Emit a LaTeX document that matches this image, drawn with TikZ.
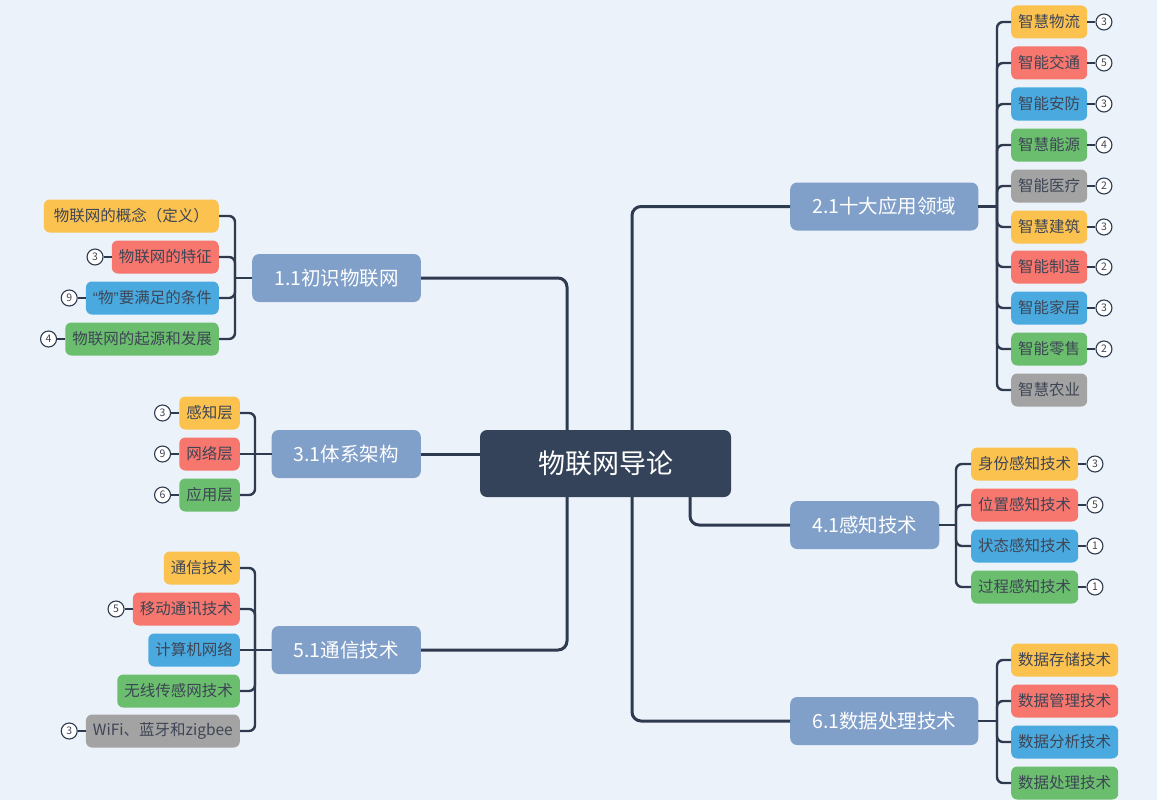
\documentclass[tikz,border=0pt]{standalone}
\usepackage{fontspec}
\setmainfont{Noto Sans CJK SC}
\newfontfamily\quotefont{Liberation Sans}
\usetikzlibrary{positioning}
\definecolor{bgc}{HTML}{ECF2FA}
\definecolor{rootc}{HTML}{344359}
\definecolor{mainc}{HTML}{809FC9}
\definecolor{yelc}{HTML}{FBC24F}
\definecolor{redc}{HTML}{F7766E}
\definecolor{bluc}{HTML}{4AAADF}
\definecolor{grnc}{HTML}{6ABE6E}
\definecolor{gryc}{HTML}{A3A3A3}
\definecolor{linec}{HTML}{2E3A4E}
\definecolor{txtc}{HTML}{3E4555}
\tikzset{
  rootbox/.style={fill=rootc, text=white, rounded corners=7pt, minimum width=251pt, minimum height=67pt, font=\fontsize{27}{30}\selectfont},
  mainbox/.style={fill=mainc, text=white, rounded corners=7pt, minimum height=48pt, inner xsep=22pt, font=\fontsize{19.5}{22}\selectfont},
  leaf/.style={fill=#1, text=txtc, rounded corners=6pt, minimum height=33pt, inner xsep=7pt, font=\fontsize{15.5}{18}\selectfont},
  badge/.style={circle, draw=linec, fill=white, line width=1.1pt, inner sep=0pt, minimum size=16pt, text=txtc, font=\fontsize{10.5}{12}\selectfont},
  link/.style={draw=linec, line width=3pt, rounded corners=9pt},
  twig/.style={draw=linec, line width=2.4pt, rounded corners=6pt},
  stub/.style={draw=linec, line width=1.8pt},
}
\begin{document}
\begin{tikzpicture}[x=1pt,y=-1pt]
\fill[bgc] (0,0) rectangle (1157,800);
\useasboundingbox (0,0) rectangle (1157,800);
            % Root and topics
\node[rootbox] (root) at (605.5,463.5) {物联网导论};
\node[mainbox,anchor=east] (p11) at (421,278) {1.1初识物联网};
\node[mainbox,anchor=east] (p31) at (421,454) {3.1体系架构};
\node[mainbox,anchor=east] (p51) at (421,650) {5.1通信技术};
\node[mainbox,anchor=west] (p21) at (790,206.5) {2.1十大应用领域};
\node[mainbox,anchor=west] (p41) at (790,525) {4.1感知技术};
\node[mainbox,anchor=west] (p61) at (790,721) {6.1数据处理技术};
%Topic 1.1
\node[leaf=yelc,anchor=east,inner xsep=10pt] (c11a) at (219,216) {物联网的概念（定义）};
\node[leaf=redc,anchor=east] (c11b) at (219,257) {物联网的特征};
\node[leaf=bluc,anchor=east] (c11c) at (219,298) {{\quotefont “}物{\quotefont ”}要满足的条件};
\node[leaf=grnc,anchor=east] (c11d) at (219,339) {物联网的起源和发展};
\node[badge,left=8pt of c11b] (b11b) {3};
\node[badge,left=8pt of c11c] (b11c) {9};
\node[badge,left=8pt of c11d] (b11d) {4};
%Topic 3.1
\node[leaf=yelc,anchor=east] (c31a) at (240,413) {感知层};
\node[leaf=redc,anchor=east] (c31b) at (240,454) {网络层};
\node[leaf=grnc,anchor=east] (c31c) at (240,495) {应用层};
\node[badge,left=8pt of c31a] (b31a) {3};
\node[badge,left=8pt of c31b] (b31b) {9};
\node[badge,left=8pt of c31c] (b31c) {6};
%Topic 5.1
\node[leaf=yelc,anchor=east] (c51a) at (240,568) {通信技术};
\node[leaf=redc,anchor=east] (c51b) at (240,609) {移动通讯技术};
\node[leaf=bluc,anchor=east] (c51c) at (240,650) {计算机网络};
\node[leaf=grnc,anchor=east] (c51d) at (240,691) {无线传感网技术};
\node[leaf=gryc,anchor=east] (c51e) at (240,731) {WiFi、蓝牙和zigbee};
\node[badge,left=8pt of c51b] (b51b) {5};
\node[badge,left=8pt of c51e] (b51e) {3};
%Topic 2.1
\node[leaf=yelc,anchor=west] (c21a) at (1011,22) {智慧物流};
\node[leaf=redc,anchor=west] (c21b) at (1011,63) {智能交通};
\node[leaf=bluc,anchor=west] (c21c) at (1011,104) {智能安防};
\node[leaf=grnc,anchor=west] (c21d) at (1011,145) {智慧能源};
\node[leaf=gryc,anchor=west] (c21e) at (1011,186) {智能医疗};
\node[leaf=yelc,anchor=west] (c21f) at (1011,227) {智慧建筑};
\node[leaf=redc,anchor=west] (c21g) at (1011,267) {智能制造};
\node[leaf=bluc,anchor=west] (c21h) at (1011,308) {智能家居};
\node[leaf=grnc,anchor=west] (c21i) at (1011,349) {智能零售};
\node[leaf=gryc,anchor=west] (c21j) at (1011,390) {智慧农业};
\node[badge,right=8pt of c21a] (b21a) {3};
\node[badge,right=8pt of c21b] (b21b) {5};
\node[badge,right=8pt of c21c] (b21c) {3};
\node[badge,right=8pt of c21d] (b21d) {4};
\node[badge,right=8pt of c21e] (b21e) {2};
\node[badge,right=8pt of c21f] (b21f) {3};
\node[badge,right=8pt of c21g] (b21g) {2};
\node[badge,right=8pt of c21h] (b21h) {3};
\node[badge,right=8pt of c21i] (b21i) {2};
%Topic 4.1
\node[leaf=yelc,anchor=west] (c41a) at (971,464) {身份感知技术};
\node[leaf=redc,anchor=west] (c41b) at (971,505) {位置感知技术};
\node[leaf=bluc,anchor=west] (c41c) at (971,546) {状态感知技术};
\node[leaf=grnc,anchor=west] (c41d) at (971,587) {过程感知技术};
\node[badge,right=8pt of c41a] (b41a) {3};
\node[badge,right=8pt of c41b] (b41b) {5};
\node[badge,right=8pt of c41c] (b41c) {1};
\node[badge,right=8pt of c41d] (b41d) {1};
%Topic 6.1
\node[leaf=yelc,anchor=west] (c61a) at (1011,660) {数据存储技术};
\node[leaf=redc,anchor=west] (c61b) at (1011,701) {数据管理技术};
\node[leaf=bluc,anchor=west] (c61c) at (1011,742) {数据分析技术};
\node[leaf=grnc,anchor=west] (c61d) at (1011,783) {数据处理技术};
%Junctions
\coordinate (j11) at (235,278);
\coordinate (j31) at (255,454);
\coordinate (j51) at (255,650);
\coordinate (j21) at (997,206.5);
\coordinate (j41) at (956,525);
\coordinate (j61) at (997,721);
%Root connection
\draw[link] ([xshift=-38.5pt]root.north) |- (p11.east);
\draw[link] (p31.east) -- (p31.east -| root.west);
\draw[link] ([xshift=-38.5pt]root.south) |- (p51.east);
\draw[link] ([xshift=26.5pt]root.north) |- (p21.west);
\draw[link] ([xshift=84.5pt]root.south) |- (p41.west);
\draw[link] ([xshift=26.5pt]root.south) |- (p61.west);
%Branches
\draw[twig] (p11.west) -- (j11);
\draw[twig] (c11a.east) -| (j11);
\draw[twig] (c11b.east) -| (j11);
\draw[twig] (c11c.east) -| (j11);
\draw[twig] (c11d.east) -| (j11);
\draw[twig] (p31.west) -- (c31b.east);
\draw[twig] (c31a.east) -| (j31);
\draw[twig] (c31c.east) -| (j31);
\draw[twig] (p51.west) -- (c51c.east);
\draw[twig] (c51a.east) -| (j51);
\draw[twig] (c51b.east) -| (j51);
\draw[twig] (c51d.east) -| (j51);
\draw[twig] (c51e.east) -| (j51);
\draw[twig] (p21.east) -- (j21);
\draw[twig] (c21a.west) -| (j21);
\draw[twig] (c21b.west) -| (j21);
\draw[twig] (c21c.west) -| (j21);
\draw[twig] (c21d.west) -| (j21);
\draw[twig] (c21e.west) -| (j21);
\draw[twig] (c21f.west) -| (j21);
\draw[twig] (c21g.west) -| (j21);
\draw[twig] (c21h.west) -| (j21);
\draw[twig] (c21i.west) -| (j21);
\draw[twig] (c21j.west) -| (j21);
\draw[twig] (p41.east) -- (j41);
\draw[twig] (c41a.west) -| (j41);
\draw[twig] (c41b.west) -| (j41);
\draw[twig] (c41c.west) -| (j41);
\draw[twig] (c41d.west) -| (j41);
\draw[twig] (p61.east) -- (j61);
\draw[twig] (c61a.west) -| (j61);
\draw[twig] (c61b.west) -| (j61);
\draw[twig] (c61c.west) -| (j61);
\draw[twig] (c61d.west) -| (j61);
%Badges
\draw[stub] (c11b) -- (b11b);
\draw[stub] (c11c) -- (b11c);
\draw[stub] (c11d) -- (b11d);
\draw[stub] (c31a) -- (b31a);
\draw[stub] (c31b) -- (b31b);
\draw[stub] (c31c) -- (b31c);
\draw[stub] (c51b) -- (b51b);
\draw[stub] (c51e) -- (b51e);
\draw[stub] (c21a) -- (b21a);
\draw[stub] (c21b) -- (b21b);
\draw[stub] (c21c) -- (b21c);
\draw[stub] (c21d) -- (b21d);
\draw[stub] (c21e) -- (b21e);
\draw[stub] (c21f) -- (b21f);
\draw[stub] (c21g) -- (b21g);
\draw[stub] (c21h) -- (b21h);
\draw[stub] (c21i) -- (b21i);
\draw[stub] (c41a) -- (b41a);
\draw[stub] (c41b) -- (b41b);
\draw[stub] (c41c) -- (b41c);
\draw[stub] (c41d) -- (b41d);

          \end{tikzpicture}
\end{document}
